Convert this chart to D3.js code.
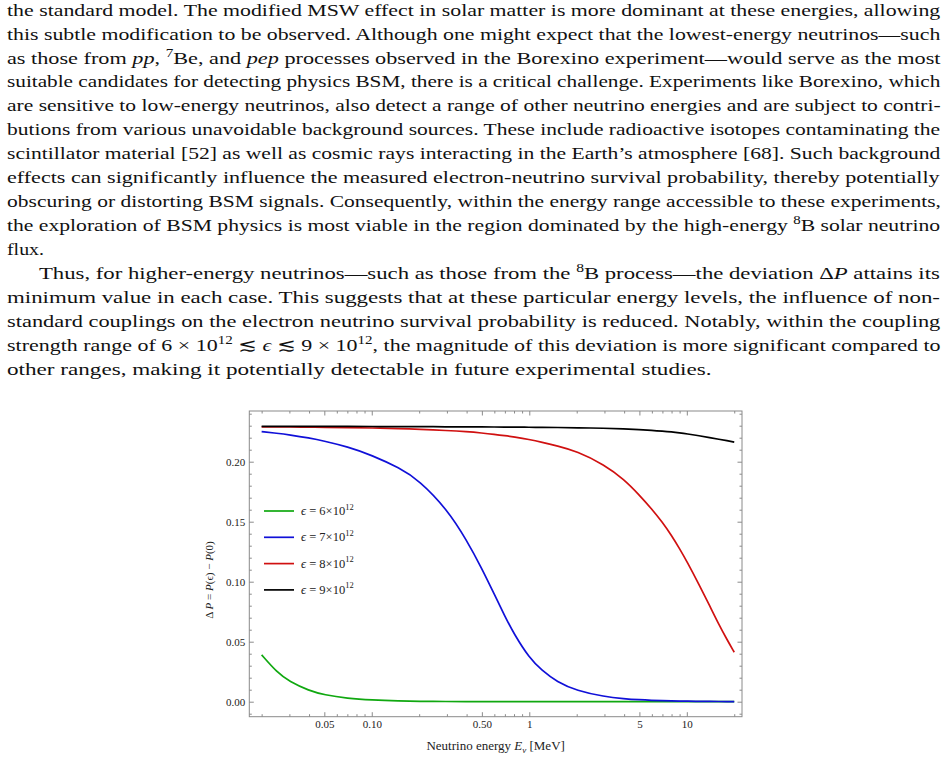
<!DOCTYPE html>
<html>
<head>
    <meta charset="utf-8">
    <title>delta P vs neutrino energy</title>
    <script type="text/javascript" src="https://d3js.org/d3.v7.min.js"></script>
    <style>
      body { margin: 0; background: #fff; }
      svg { display: block; }
      .page text { font-family: "Liberation Serif", "DejaVu Serif", serif; fill: #111; }
      .chart text { font-family: "Liberation Serif", "DejaVu Serif", serif; }
    </style>
</head>
<body>
<script type="text/javascript">

        var width = 949
        var height = 760

        // page text, one entry per printed line: [text, style]
        var textLines = [
            [["the standard model. The modified MSW effect in solar matter is more dominant at these energies, allowing"]],
            [["this subtle modification to be observed. Although one might expect that the lowest-energy neutrinos\u2014such"]],
            [["as those from "],["pp","i"],[", "],["7","sup"],["Be, and "],["pep","i"],[" processes observed in the Borexino experiment\u2014would serve as the most"]],
            [["suitable candidates for detecting physics BSM, there is a critical challenge. Experiments like Borexino, which"]],
            [["are sensitive to low-energy neutrinos, also detect a range of other neutrino energies and are subject to contri-"]],
            [["butions from various unavoidable background sources. These include radioactive isotopes contaminating the"]],
            [["scintillator material [52] as well as cosmic rays interacting in the Earth\u2019s atmosphere [68]. Such background"]],
            [["effects can significantly influence the measured electron-neutrino survival probability, thereby potentially"]],
            [["obscuring or distorting BSM signals. Consequently, within the energy range accessible to these experiments,"]],
            [["the exploration of BSM physics is most viable in the region dominated by the high-energy "],["8","sup"],["B solar neutrino"]],
            [["flux."]],
            [["Thus, for higher-energy neutrinos\u2014such as those from the "],["8","sup"],["B process\u2014the deviation \u0394"],["P","i"],[" attains its"]],
            [["minimum value in each case. This suggests that at these particular energy levels, the influence of non-"]],
            [["standard couplings on the electron neutrino survival probability is reduced. Notably, within the coupling"]],
            [["strength range of 6 \u00d7 10"],["12","sup"],[" \u2272 "],["\u03f5","i"],[" \u2272 9 \u00d7 10"],["12","sup"],[", the magnitude of this deviation is more significant compared to"]],
            [["other ranges, making it potentially detectable in future experimental studies."]]
        ]
        var indentedLines = [11]
        var raggedEnds = {10: 44, 15: 712}

        // chart data
        var energies = [0.02,0.025,0.03,0.04,0.05,0.07,0.1,0.15,0.2,0.3,0.4,0.5,0.6,0.7,0.8,1,1.2,1.5,2,3,4,5,6,7,8,9,10,12,14,16,18,20]
        var eps6 = [0.039,0.0245,0.0168,0.0092,0.0057,0.0028,0.0014,0.0006,0.0003,0.00015,0.0001,0.00006,0.00004,0.00003,0.00002,0.00001,0,0,0,0,0,0,0,0,0,0,0,0,0,0,0,0]
        var eps7 = [0.225,0.2237,0.2224,0.2198,0.2172,0.2125,0.2055,0.1948,0.1845,0.1605,0.1348,0.1110,0.0895,0.0712,0.0565,0.0365,0.0262,0.0165,0.0092,0.0042,0.0025,0.0016,0.0011,0.0008,0.0006,0.0005,0.0004,0.0003,0.0002,0.00015,0.0001,0.0001]
        var eps8 = [0.229,0.229,0.2289,0.2288,0.2286,0.2284,0.2281,0.2276,0.2270,0.2260,0.2250,0.2239,0.2228,0.2217,0.2206,0.2185,0.2163,0.2132,0.2088,0.1975,0.1852,0.1722,0.1605,0.1495,0.1385,0.1275,0.1170,0.0972,0.0797,0.0642,0.0517,0.0412]
        var eps9 = [0.2295,0.2295,0.2295,0.2295,0.2294,0.2294,0.2293,0.2293,0.2292,0.2291,0.229,0.229,0.2289,0.2289,0.2288,0.2287,0.2286,0.2285,0.2283,0.2279,0.2274,0.2268,0.2262,0.2255,0.2248,0.2240,0.2232,0.2216,0.2201,0.2187,0.2175,0.2163]
        var seriesNames = ["6", "7", "8", "9"]
        var seriesColors = ["#10a810", "#1010d8", "#d01010", "#000000"]

        var xMajor = [0.05,0.1,0.5,1,5,10]
        var xMajorLabels = ["0.05","0.10","0.50","1","5","10"]
        var xMinor = [0.02,0.03,0.04,0.06,0.07,0.08,0.09,0.2,0.3,0.4,0.6,0.7,0.8,0.9,2,3,4,6,7,8,9,20]
        var yMajor = [0,0.05,0.1,0.15,0.2]
        var yMajorLabels = ["0.00","0.05","0.10","0.15","0.20"]
        var yMinor = [-0.01,0.01,0.02,0.03,0.04,0.06,0.07,0.08,0.09,0.11,0.12,0.13,0.14,0.16,0.17,0.18,0.19,0.21,0.22,0.23,0.24]

        var svg = d3.select("body").append("svg").attr("width",width).attr("height",height)

        drawText()
        drawChart()

        function drawText(){
            var g = svg.append("g").attr("class","page")
            var left = 7
            var right = 941
            for(var i = 0; i < textLines.length; i++){
                var baseline = 15.7 + 23.93*i
                var x0 = indentedLines.indexOf(i) >= 0 ? left + 32 : left
                var x1 = raggedEnds[i] !== undefined ? raggedEnds[i] : right
                var t = g.append("text").attr("font-size", 17.5).attr("x", 0).attr("y", 0)
                var shifted = false
                textLines[i].forEach(function(seg){
                    var ts = t.append("tspan").text(seg[0])
                    if(seg[1] == "i") ts.attr("font-style","italic")
                    if(seg[1] == "sup"){
                        ts.attr("font-size", 12).attr("dy", -7)
                        shifted = true
                    } else if(shifted){
                        ts.attr("dy", 7)
                        shifted = false
                    }
                })
                // stretch each printed line to its measured width (justified text)
                var w = t.node().getBBox().width
                t.attr("transform", "translate(" + x0 + "," + baseline + ") scale(" + ((x1 - x0)/w) + ",1)")
            }
        }

        function drawChart(){
            var g = svg.append("g").attr("class","chart")
            var frameColor = "#8a8a8a"

            var x = d3.scaleLog().domain([0.0167, 22.4]).range([249.3, 742])
            var y = d3.scaleLinear().domain([-0.0125, 0.24225]).range([716.7, 411])

            var series = [eps6, eps7, eps8, eps9]
            var line = d3.line()
                .x(function(d){ return x(d[0]) })
                .y(function(d){ return y(d[1]) })
                .curve(d3.curveBasis)

            for(var s in series){
                var pts = energies.map(function(e, k){ return [e, series[s][k]] })
                g.append("path")
                    .attr("d", line(pts))
                    .attr("fill","none")
                    .attr("stroke", seriesColors[s])
                    .attr("stroke-width", 1.7)
            }

            // frame
            g.append("rect")
                .attr("x", x.range()[0]).attr("y", y.range()[1])
                .attr("width", x.range()[1] - x.range()[0])
                .attr("height", y.range()[0] - y.range()[1])
                .attr("fill","none").attr("stroke", frameColor).attr("stroke-width", 1)

            var bottom = y.range()[0], top = y.range()[1]
            var leftX = x.range()[0], rightX = x.range()[1]

            function styleAxis(sel){
                sel.select(".domain").remove()
                sel.selectAll("line").attr("stroke", frameColor)
                sel.selectAll("text").attr("fill","#222").attr("font-size", 11)
            }

            g.append("g").attr("transform","translate(0," + bottom + ")")
                .call(d3.axisBottom(x).tickValues(xMajor).tickSizeInner(-4.5).tickSizeOuter(0).tickPadding(4)
                    .tickFormat(function(d, k){ return xMajorLabels[k] }))
                .call(styleAxis)
            g.append("g").attr("transform","translate(0," + bottom + ")")
                .call(d3.axisBottom(x).tickValues(xMinor).tickSizeInner(-2.5).tickSizeOuter(0).tickFormat(""))
                .call(styleAxis)
            g.append("g").attr("transform","translate(0," + top + ")")
                .call(d3.axisTop(x).tickValues(xMajor).tickSizeInner(-4.5).tickSizeOuter(0).tickFormat(""))
                .call(styleAxis)
            g.append("g").attr("transform","translate(0," + top + ")")
                .call(d3.axisTop(x).tickValues(xMinor).tickSizeInner(-2.5).tickSizeOuter(0).tickFormat(""))
                .call(styleAxis)

            g.append("g").attr("transform","translate(" + leftX + ",0)")
                .call(d3.axisLeft(y).tickValues(yMajor).tickSizeInner(-4.5).tickSizeOuter(0).tickPadding(4)
                    .tickFormat(function(d, k){ return yMajorLabels[k] }))
                .call(styleAxis)
            g.append("g").attr("transform","translate(" + leftX + ",0)")
                .call(d3.axisLeft(y).tickValues(yMinor).tickSizeInner(-2.5).tickSizeOuter(0).tickFormat(""))
                .call(styleAxis)
            g.append("g").attr("transform","translate(" + rightX + ",0)")
                .call(d3.axisRight(y).tickValues(yMajor).tickSizeInner(-4.5).tickSizeOuter(0).tickFormat(""))
                .call(styleAxis)
            g.append("g").attr("transform","translate(" + rightX + ",0)")
                .call(d3.axisRight(y).tickValues(yMinor).tickSizeInner(-2.5).tickSizeOuter(0).tickFormat(""))
                .call(styleAxis)

            // axis titles
            var xt = g.append("text")
                .attr("x", (leftX + rightX)/2).attr("y", 750)
                .attr("text-anchor","middle").attr("font-size", 13).attr("fill","#222")
            xt.append("tspan").text("Neutrino energy ")
            xt.append("tspan").attr("font-style","italic").text("E")
            xt.append("tspan").attr("font-style","italic").attr("font-size", 9).attr("dy", 2.5).text("\u03bd")
            xt.append("tspan").attr("dy", -2.5).text(" [MeV]")

            var yt = g.append("text")
                .attr("transform","translate(213,580) rotate(-90)")
                .attr("text-anchor","middle").attr("font-size", 11).attr("fill","#222")
            yt.append("tspan").text("\u0394\u2009")
            yt.append("tspan").attr("font-style","italic").text("P")
            yt.append("tspan").text(" = ")
            yt.append("tspan").attr("font-style","italic").text("P")
            yt.append("tspan").text("(\u03f5) \u2212 ")
            yt.append("tspan").attr("font-style","italic").text("P")
            yt.append("tspan").text("(0)")

            // legend
            var legend = g.append("g")
            for(var k = 0; k < seriesNames.length; k++){
                var ly = 511 + k*26.3
                legend.append("line")
                    .attr("x1", 264).attr("x2", 294).attr("y1", ly).attr("y2", ly)
                    .attr("stroke", seriesColors[k]).attr("stroke-width", 1.7)
                var lt = legend.append("text")
                    .attr("x", 301).attr("y", ly + 4)
                    .attr("font-size", 12.5).attr("fill","#222")
                lt.append("tspan").attr("font-style","italic").text("\u03f5")
                lt.append("tspan").text(" = " + seriesNames[k] + "\u00d710")
                lt.append("tspan").attr("font-size", 8.5).attr("dy", -5.5).text("12")
            }
        }
</script>
</body>
</html>
